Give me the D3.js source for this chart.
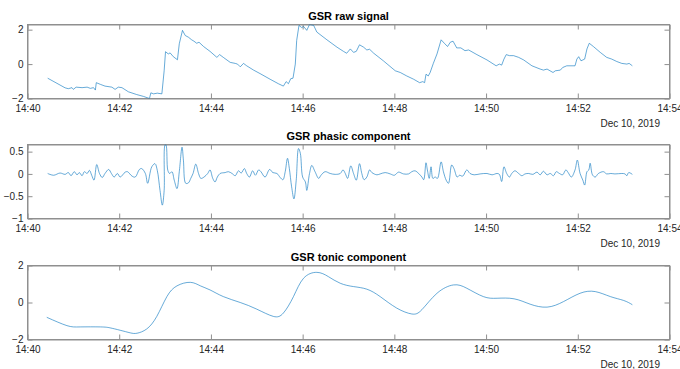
<!DOCTYPE html>
<html>
<head>
<meta charset="utf-8">
<script src="https://cdn.jsdelivr.net/npm/d3@7"></script>
<style>
    body { margin: 0; background: #fff; }
    svg { display: block; font-family: "Liberation Sans", Arial, Helvetica, sans-serif; }
    .tick text { fill: #262626; font-size: 10px; }
    .title { font-weight: bold; font-size: 11px; fill: #000; }
    .datelabel { font-size: 10px; fill: #262626; }
</style>
</head>
<body>
<svg id="chart" width="680" height="369"></svg>
<script>

// minutes after 14:40:00 on Dec 10, 2019
const rawMinutes = [
    0.44, 0.82, 0.89, 0.97, 1.00, 1.06, 1.19, 1.30, 1.37, 1.44,
    1.48, 1.50, 1.59, 1.69, 1.84, 1.91, 1.98, 2.06, 2.20, 2.38,
    2.53, 2.66, 2.69, 2.75, 2.83, 2.93, 2.98, 3.01, 3.07, 3.11,
    3.18, 3.27, 3.31, 3.38, 3.44, 3.51, 3.58, 3.63, 3.69, 3.74,
    3.84, 3.98, 4.13, 4.19, 4.27, 4.42, 4.53, 4.58, 4.64, 4.71,
    4.78, 4.93, 5.07, 5.29, 5.47, 5.58, 5.64, 5.69, 5.74, 5.79,
    5.84, 5.87, 5.92, 5.98, 6.02, 6.09, 6.15, 6.24, 6.31, 6.53,
    6.75, 6.89, 6.96, 7.04, 7.11, 7.17, 7.24, 7.33, 7.40, 7.46,
    7.55, 7.76, 8.02, 8.13, 8.27, 8.42, 8.55, 8.62, 8.66, 8.69,
    8.74, 8.78, 8.85, 8.93, 9.02, 9.09, 9.16, 9.22, 9.28, 9.36,
    9.45, 9.54, 9.62, 9.80, 10.02, 10.22, 10.29, 10.34, 10.39, 10.44,
    10.51, 10.60, 10.71, 10.82, 11.00, 11.18, 11.25, 11.33, 11.46, 11.51,
    11.62, 11.67, 11.76, 11.94, 11.98, 12.02, 12.07, 12.15, 12.20, 12.25,
    12.34, 12.49, 12.63, 12.74, 12.85, 12.96, 13.07, 13.12, 13.19
];
const rawValues = [
    -0.82, -1.38, -1.43, -1.37, -1.47, -1.34, -1.37, -1.34, -1.41, -1.37,
    -1.51, -1.08, -1.18, -1.28, -1.34, -1.47, -1.34, -1.37, -1.61, -1.77,
    -1.88, -2.00, -1.67, -1.73, -1.69, -1.73, -0.39, 0.72, 0.59, 0.65,
    0.43, 0.25, 1.18, 1.96, 1.66, 1.56, 1.41, 1.33, 1.21, 1.27,
    1.02, 0.74, 0.39, 0.55, 0.39, 0.10, 0.04, 0.00, -0.16, 0.04,
    -0.10, -0.35, -0.55, -0.88, -1.14, -1.28, -1.02, -1.14, -0.85, -0.82,
    0.00, 1.37, 2.25, 2.12, 2.19, 1.96, 2.30, 2.25, 1.86, 1.41,
    0.98, 0.74, 0.63, 0.88, 0.68, 0.74, 1.12, 0.98, 0.82, 0.86,
    0.63, 0.19, -0.39, -0.49, -0.69, -0.88, -1.08, -1.02, -1.08, -0.59,
    -0.69, -0.49, 0.04, 0.59, 1.41, 1.21, 1.02, 1.27, 1.33, 0.94,
    0.94, 0.78, 0.82, 0.55, 0.24, -0.10, 0.00, -0.06, 0.29, 0.55,
    0.49, 0.49, 0.39, 0.24, -0.10, -0.29, -0.35, -0.29, -0.49, -0.39,
    -0.35, -0.20, -0.10, -0.10, 0.29, 0.43, 0.19, 0.29, 0.88, 1.21,
    1.02, 0.68, 0.39, 0.29, 0.15, 0.04, 0.00, 0.04, -0.10
];

const phasicMinutes = [
    0.44, 0.57, 0.71, 0.82, 0.89, 0.95, 1.02, 1.08, 1.13, 1.19,
    1.24, 1.30, 1.35, 1.40, 1.45, 1.51, 1.57, 1.63, 1.69, 1.77,
    1.83, 1.89, 1.96, 2.02, 2.13, 2.18, 2.28, 2.35, 2.44, 2.49,
    2.57, 2.62, 2.71, 2.78, 2.83, 2.89, 2.94, 2.98, 3.00, 3.02,
    3.06, 3.10, 3.15, 3.20, 3.26, 3.31, 3.37, 3.40, 3.45, 3.51,
    3.56, 3.61, 3.67, 3.73, 3.78, 3.85, 3.93, 3.98, 4.04, 4.09,
    4.14, 4.20, 4.31, 4.38, 4.46, 4.53, 4.60, 4.66, 4.73, 4.78,
    4.84, 4.91, 4.97, 5.04, 5.09, 5.18, 5.28, 5.35, 5.44, 5.51,
    5.57, 5.62, 5.67, 5.71, 5.76, 5.81, 5.86, 5.91, 5.95, 6.00,
    6.06, 6.09, 6.15, 6.20, 6.27, 6.35, 6.40, 6.49, 6.60, 6.71,
    6.82, 6.88, 6.93, 6.98, 7.05, 7.11, 7.17, 7.24, 7.29, 7.34,
    7.40, 7.46, 7.51, 7.62, 7.69, 7.80, 7.91, 8.00, 8.09, 8.20,
    8.31, 8.38, 8.45, 8.53, 8.60, 8.64, 8.69, 8.72, 8.76, 8.80,
    8.84, 8.89, 8.94, 9.02, 9.07, 9.13, 9.18, 9.25, 9.30, 9.37,
    9.42, 9.49, 9.58, 9.65, 9.74, 9.87, 10.02, 10.13, 10.24, 10.29,
    10.34, 10.39, 10.45, 10.51, 10.56, 10.63, 10.71, 10.78, 10.85, 10.93,
    11.02, 11.11, 11.18, 11.25, 11.33, 11.40, 11.47, 11.53, 11.60, 11.67,
    11.74, 11.79, 11.86, 11.94, 11.99, 12.05, 12.11, 12.15, 12.20, 12.24,
    12.27, 12.32, 12.38, 12.45, 12.56, 12.63, 12.72, 12.81, 12.96, 13.03,
    13.07, 13.11, 13.19
];
const phasicValues = [
    0.01, -0.03, 0.02, -0.01, 0.03, -0.04, 0.05, -0.02, 0.03, -0.04,
    0.05, 0.01, 0.08, -0.03, -0.14, 0.21, 0.01, -0.08, 0.01, 0.10,
    0.01, -0.07, 0.01, -0.07, 0.04, 0.05, -0.05, -0.07, 0.10, 0.12,
    0.01, -0.21, 0.16, 0.23, 0.08, -0.37, -0.70, -0.37, 0.65, 0.65,
    0.08, 0.01, 0.05, -0.14, -0.33, 0.05, 0.60, 0.31, -0.21, -0.20,
    -0.10, 0.01, 0.22, 0.01, -0.10, -0.07, 0.01, 0.09, -0.10, -0.18,
    -0.07, 0.01, 0.03, 0.05, 0.01, -0.04, 0.07, 0.02, 0.12, 0.01,
    -0.07, 0.07, -0.03, 0.09, 0.05, -0.07, 0.10, 0.03, 0.01, -0.08,
    -0.13, 0.05, 0.35, 0.12, -0.29, -0.56, -0.14, 0.57, 0.46, -0.07,
    -0.18, -0.37, 0.01, 0.19, 0.05, -0.10, -0.03, 0.05, 0.01, -0.01,
    0.01, 0.09, 0.01, -0.10, 0.18, 0.01, -0.14, 0.23, 0.01, -0.13,
    -0.07, 0.09, 0.03, -0.02, 0.00, 0.03, 0.00, -0.03, 0.04, 0.00,
    0.00, 0.05, 0.07, 0.01, -0.07, -0.13, 0.25, 0.09, -0.10, 0.16,
    -0.10, -0.07, -0.10, 0.27, 0.05, -0.14, -0.21, 0.20, 0.12, -0.07,
    -0.03, -0.05, 0.09, 0.01, -0.02, 0.00, 0.01, -0.02, 0.01, -0.01,
    -0.17, 0.16, 0.01, -0.07, 0.01, 0.07, 0.01, -0.04, 0.00, 0.01,
    -0.01, 0.04, -0.02, 0.06, -0.02, 0.01, -0.04, 0.05, 0.01, -0.02,
    0.09, 0.03, -0.07, 0.09, 0.31, 0.01, -0.14, -0.25, 0.05, 0.09,
    0.24, -0.02, -0.07, 0.01, 0.05, 0.00, 0.01, 0.00, 0.01, 0.00,
    -0.04, 0.03, -0.01
];

const tonicMinutes = [
    0.42, 0.86, 1.15, 1.59, 1.80, 2.02, 2.24, 2.39, 2.60, 2.82,
    3.04, 3.26, 3.55, 3.77, 3.98, 4.27, 4.64, 5.00, 5.36, 5.58,
    5.80, 6.02, 6.31, 6.56, 6.82, 7.11, 7.40, 7.69, 8.05, 8.38,
    8.60, 8.93, 9.29, 9.58, 9.94, 10.24, 10.61, 10.96, 11.33, 11.69,
    12.05, 12.38, 12.71, 13.00, 13.19
];
const tonicValues = [
    -0.80, -1.25, -1.32, -1.32, -1.37, -1.50, -1.64, -1.66, -1.43, -0.75,
    0.32, 0.90, 1.09, 0.90, 0.68, 0.32, 0.00, -0.36, -0.75, -0.57,
    0.32, 1.31, 1.63, 1.40, 1.04, 0.86, 0.72, 0.32, -0.30, -0.62,
    -0.39, 0.50, 0.95, 0.77, 0.32, 0.23, 0.20, -0.09, -0.25, 0.05,
    0.50, 0.59, 0.32, 0.11, -0.12
];

const titles = ["GSR raw signal", "GSR phasic component", "GSR tonic component"];
const yDomains = [[-2, 2.3], [-1, 0.66], [-2, 2]];
const yTicks = [[-2, 0, 2], [-1, -0.5, 0, 0.5], [-2, 0, 2]];
const dateLabel = "Dec 10, 2019";

const t0 = new Date(2019, 11, 10, 14, 40, 0);
const tEnd = new Date(2019, 11, 10, 14, 54, 0);
const toDate = m => new Date(t0.getTime() + m * 60000);

const panels = [
    { minutes: rawMinutes, values: rawValues, curve: d3.curveLinear },
    { minutes: phasicMinutes, values: phasicValues, curve: d3.curveCatmullRom.alpha(0.5) },
    { minutes: tonicMinutes, values: tonicValues, curve: d3.curveNatural }
];

const svg = d3.select("#chart");
const left = 27.5, right = 669.5;
const tops = [24.5, 144.5, 265.5];
const plotH = 74;
const axisColor = "#8f8f8f";
const lineColor = "#0072BD";

const x = d3.scaleTime().domain([t0, tEnd]).range([left, right]);
const xTickValues = d3.timeMinute.every(2).range(t0, new Date(tEnd.getTime() + 1));

panels.forEach((p, i) => {
    const top = tops[i];
    const bottom = top + plotH;
    const y = d3.scaleLinear().domain(yDomains[i]).range([bottom, top]);

    const g = svg.append("g");

    g.append("clipPath").attr("id", "clip" + i)
        .append("rect")
        .attr("x", left).attr("y", top)
        .attr("width", right - left).attr("height", plotH);

    // x axis bottom with labels, ticks pointing inward
    const xAxis = g.append("g")
        .attr("transform", `translate(0,${bottom})`)
        .call(d3.axisBottom(x).tickValues(xTickValues)
            .tickFormat(d3.timeFormat("%H:%M"))
            .tickSizeInner(-5).tickSizeOuter(0).tickPadding(10));
    // top ticks
    const xTop = g.append("g")
        .attr("transform", `translate(0,${top})`)
        .call(d3.axisTop(x).tickValues(xTickValues)
            .tickFormat("").tickSizeInner(-5).tickSizeOuter(0));
    const yAxis = g.append("g")
        .attr("transform", `translate(${left},0)`)
        .call(d3.axisLeft(y).tickValues(yTicks[i])
            .tickFormat(d3.format("~g"))
            .tickSizeInner(-5).tickSizeOuter(0).tickPadding(4));
    const yRight = g.append("g")
        .attr("transform", `translate(${right},0)`)
        .call(d3.axisRight(y).tickValues(yTicks[i])
            .tickFormat("").tickSizeInner(-5).tickSizeOuter(0));

    [xAxis, xTop, yAxis, yRight].forEach(a => {
        a.selectAll(".domain").attr("stroke", axisColor);
        a.selectAll(".tick line").attr("stroke", axisColor);
        a.selectAll(".tick text")
            .attr("font-family", null).attr("font-size", null).attr("fill", null);
    });
    xAxis.selectAll(".tick text").attr("dy", "0.71em").attr("y", 6);

    // box
    g.append("rect")
        .attr("x", left).attr("y", top)
        .attr("width", right - left).attr("height", plotH)
        .attr("fill", "none").attr("stroke", axisColor);

    const line = d3.line()
        .x(d => x(toDate(d[0])))
        .y(d => y(d[1]))
        .curve(p.curve);

    g.append("path")
        .datum(d3.zip(p.minutes, p.values))
        .attr("clip-path", `url(#clip${i})`)
        .attr("fill", "none")
        .attr("stroke", lineColor)
        .attr("stroke-width", 0.6)
        .attr("d", line);

    g.append("text")
        .attr("class", "title")
        .attr("x", (left + right) / 2)
        .attr("y", top - 5)
        .attr("text-anchor", "middle")
        .text(titles[i]);

    g.append("text")
        .attr("class", "datelabel")
        .attr("x", 660)
        .attr("y", bottom + 28)
        .attr("text-anchor", "end")
        .text(dateLabel);
});
</script>
</body>
</html>
